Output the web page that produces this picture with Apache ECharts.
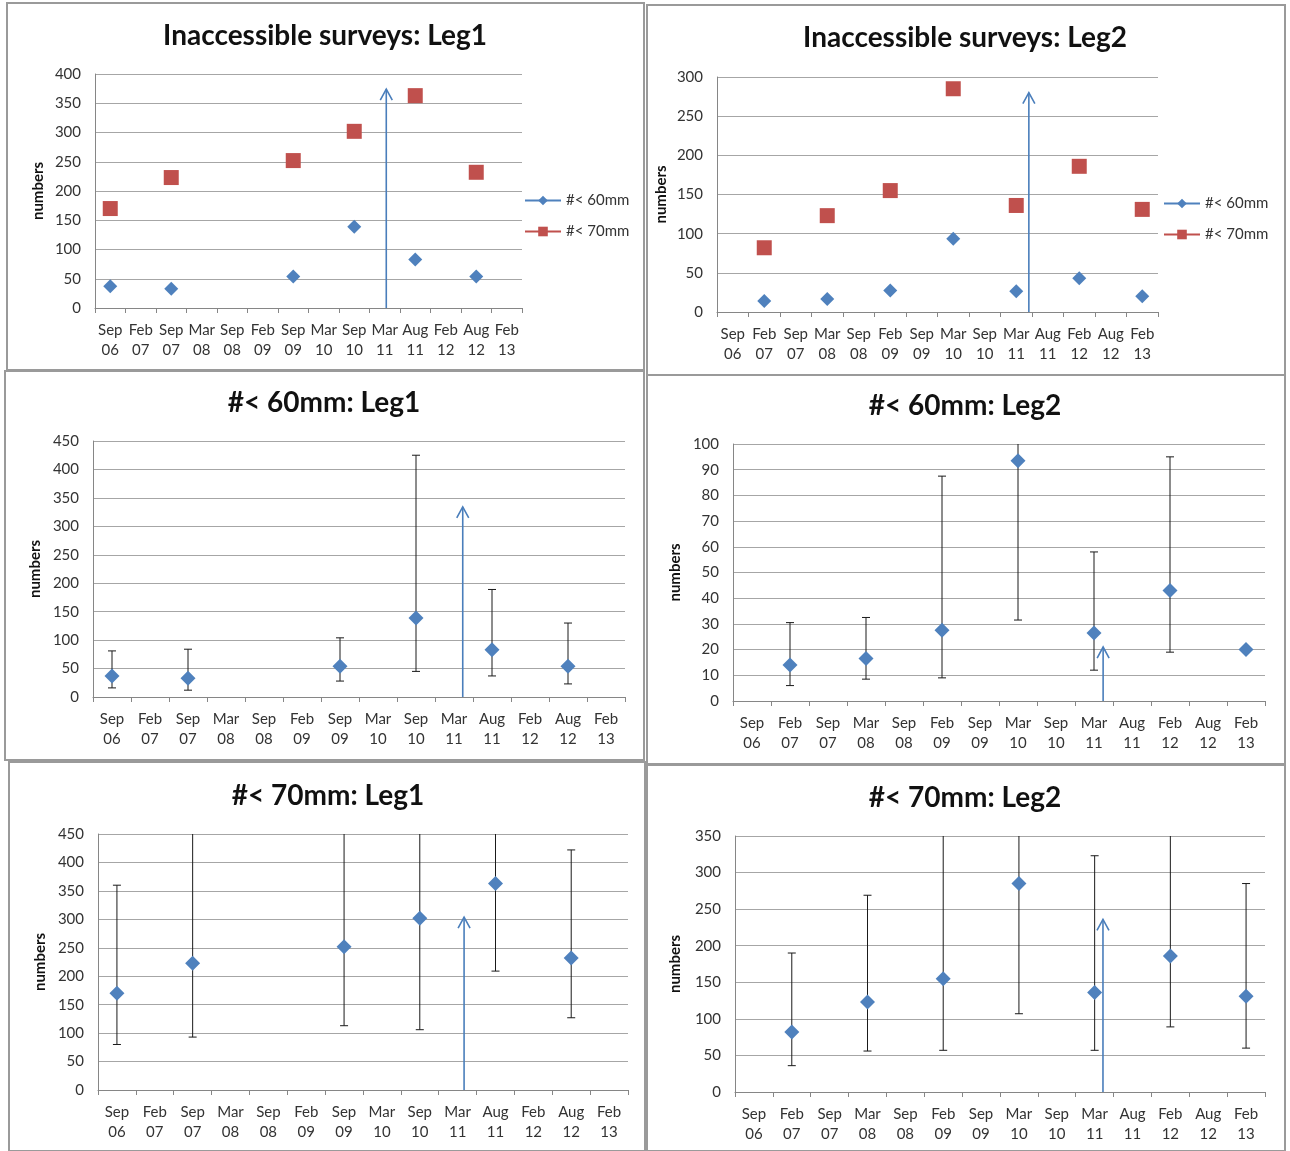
<!DOCTYPE html>
<html>
<head>
<meta charset="utf-8">
<script src="https://cdn.jsdelivr.net/npm/echarts@6/dist/echarts.min.js"></script>
<style>
html,body{margin:0;padding:0;background:#fff;}
#chart{width:1290px;height:1151px;}
</style>
</head>
<body>
<div id="chart"></div>
<script>
// ---- data ----
const categories = ['Sep\n06','Feb\n07','Sep\n07','Mar\n08','Sep\n08','Feb\n09','Sep\n09','Mar\n10','Sep\n10','Mar\n11','Aug\n11','Feb\n12','Aug\n12','Feb\n13'];

const leg1_60 = [37,null,33,null,null,null,54,null,139,null,83,null,54,null];
const leg1_70 = [170,null,223,null,null,null,252,null,302,null,363,null,232,null];
const leg2_60 = [null,14,null,16.5,null,27.5,null,93.5,null,26.5,null,43,null,20];
const leg2_70 = [null,82,null,123,null,155,null,285,null,136,null,186,null,131];

const leg1_60_low  = [16,null,12,null,null,null,28,null,45,null,37,null,23,null];
const leg1_60_high = [81,null,84,null,null,null,104,null,425,null,189,null,130,null];
const leg2_60_low  = [null,6,null,8.5,null,9,null,31.5,null,12,null,19,null,null];
const leg2_60_high = [null,30.5,null,32.5,null,87.5,null,110,null,58,null,95,null,null];
const leg1_70_low  = [80,null,93,null,null,null,113,null,106,null,209,null,127,null];
const leg1_70_high = [360,null,480,null,null,null,470,null,500,null,520,null,422,null];
const leg2_70_low  = [null,36,null,56,null,57,null,107,null,57,null,89,null,60];
const leg2_70_high = [null,190,null,269,null,380,null,460,null,323,null,390,null,285];

// arrow (position in category units, height in axis units) per panel
const arrowX   = [9.05, 9.40, 9.23, 9.24, 9.17, 9.22];
const arrowTop = [374, 280, 334, 21, 304, 236];

const titles = ['Inaccessible surveys: Leg1','Inaccessible surveys: Leg2','#< 60mm: Leg1','#< 60mm: Leg2','#< 70mm: Leg1','#< 70mm: Leg2'];
const yMax  = [400, 300, 450, 100, 450, 350];
const yStep = [50, 50, 50, 10, 50, 50];
const seriesNames = ['#< 60mm', '#< 70mm'];

// ---- layout ----
const grids = [
  {left:95,  top:74,  width:427, height:234},
  {left:717, top:77,  width:441, height:235},
  {left:93,  top:441, width:532, height:256},
  {left:733, top:444, width:532, height:257},
  {left:98,  top:834, width:530, height:256},
  {left:735, top:836, width:530, height:256}
];
const titlePos = [[325,36],[965,38],[324,403],[965,406],[328,796],[965,798]];
const nameGap = [49, 48, 50, 50, 50, 52];
const frames = [
  [7,3,637,367],[647,5,638,370],[5,371,639,389],[647,375,638,390],[9,762,636,389],[647,764,638,387]
];

const BLUE = '#4f81bd', RED = '#c0504d', ARROW = '#4a7ebb';
const FONT = "Lato, 'Liberation Sans', Arial, sans-serif";
const TFONT = "Lato, 'Liberation Sans', Arial, sans-serif";

function toPoints(vals){ const out=[]; vals.forEach((v,i)=>{ if(v!=null) out.push([i,v]); }); return out; }
function toErr(lo,hi){ const out=[]; lo.forEach((v,i)=>{ if(v!=null && hi[i]!=null) out.push([i,v,hi[i]]); }); return out; }

function errRender(params, api){
  const x = api.value(0), lo = api.value(1), hi = api.value(2);
  const p1 = api.coord([x, lo]);
  const p2 = api.coord([x, hi]);
  const cs = params.coordSys;
  let y2 = p2[1], capTop = true;
  if (y2 < cs.y) { y2 = cs.y; capTop = false; }
  const w = 4;
  const st = {stroke:'#1a1a1a', lineWidth:1};
  const ch = [
    {type:'line', shape:{x1:p1[0], y1:p1[1], x2:p1[0], y2:y2}, style:st},
    {type:'line', shape:{x1:p1[0]-w, y1:p1[1], x2:p1[0]+w, y2:p1[1]}, style:st}
  ];
  if (capTop) ch.push({type:'line', shape:{x1:p1[0]-w, y1:y2, x2:p1[0]+w, y2:y2}, style:st});
  return {type:'group', children:ch};
}
function arrowRender(params, api){
  const x = api.value(0), top = api.value(1);
  const p0 = api.coord([x, 0]);
  const p1 = api.coord([x, top]);
  const st = {stroke:ARROW, lineWidth:1.6, fill:null};
  return {type:'group', children:[
    {type:'line', shape:{x1:p0[0], y1:p0[1], x2:p1[0], y2:p1[1]}, style:st},
    {type:'polyline', shape:{points:[[p1[0]-6,p1[1]+11],[p1[0],p1[1]],[p1[0]+6,p1[1]+11]]}, style:st}
  ]};
}

const option = {
  animation:false,
  backgroundColor:'#fff',
  textStyle:{fontFamily:FONT},
  title: titles.map((t,i)=>({
    text:t, left:titlePos[i][0], top:titlePos[i][1], padding:0,
    textAlign:'center', textVerticalAlign:'middle',
    textStyle:{fontFamily:TFONT, fontSize:28, fontWeight:'bold', color:'#111'}
  })),
  legend:[
    {data:seriesNames, orient:'vertical', left:519, top:188, itemWidth:36, itemHeight:12, itemGap:16,
     textStyle:{fontSize:15, color:'#333', fontFamily:FONT}, selectedMode:false},
    {data:seriesNames, orient:'vertical', left:1158, top:191, itemWidth:36, itemHeight:12, itemGap:16,
     textStyle:{fontSize:15, color:'#333', fontFamily:FONT}, selectedMode:false}
  ],
  graphic: frames.map(f=>({type:'rect', shape:{x:f[0], y:f[1], width:f[2], height:f[3]},
     style:{fill:null, stroke:'#9a9a9a', lineWidth:2}, z:-1, silent:true})),
  grid: grids.map(g=>Object.assign({containLabel:false}, g)),
  xAxis: [],
  yAxis: [],
  series: []
};

grids.forEach((g,i)=>{
  option.xAxis.push({
    type:'category', gridIndex:i, data:categories, boundaryGap:true,
    axisLine:{onZero:false, lineStyle:{color:'#868686', width:1}},
    axisTick:{show:true, length:5, lineStyle:{color:'#868686'}},
    axisLabel:{fontSize:15, color:'#333', lineHeight:20, margin:12, interval:0, fontFamily:FONT},
    splitLine:{show:false}
  });
  option.xAxis.push({type:'value', gridIndex:i, min:-0.5, max:13.5, show:false});
  option.yAxis.push({
    type:'value', gridIndex:i, min:0, max:yMax[i], interval:yStep[i],
    name:'numbers', nameLocation:'middle', nameRotate:90, nameGap:nameGap[i],
    nameTextStyle:{fontSize:15, fontWeight:'bold', color:'#111', fontFamily:FONT},
    axisLine:{show:true, onZero:false, lineStyle:{color:'#868686', width:1}},
    axisTick:{show:false},
    axisLabel:{fontSize:15, color:'#333', margin:14, fontFamily:FONT},
    splitLine:{show:true, lineStyle:{color:'#a6a6a6', width:1}}
  });
});

// panels 1 & 2: overview scatter with legend
[[leg1_60, leg1_70],[leg2_60, leg2_70]].forEach((pair,i)=>{
  option.series.push({
    name:seriesNames[0], type:'line', xAxisIndex:2*i, yAxisIndex:i, data:pair[0],
    symbol:'diamond', symbolSize:14, showSymbol:true, showAllSymbol:true, connectNulls:false,
    itemStyle:{color:BLUE}, lineStyle:{color:BLUE, width:2.5}, z:3
  });
  option.series.push({
    name:seriesNames[1], type:'line', xAxisIndex:2*i, yAxisIndex:i, data:pair[1],
    symbol:'rect', symbolSize:15, showSymbol:true, showAllSymbol:true, connectNulls:false,
    itemStyle:{color:RED}, lineStyle:{color:RED, width:2.5}, z:3
  });
});

// panels 3-6: values with error bars
const detail = [
  [leg1_60, leg1_60_low, leg1_60_high],
  [leg2_60, leg2_60_low, leg2_60_high],
  [leg1_70, leg1_70_low, leg1_70_high],
  [leg2_70, leg2_70_low, leg2_70_high]
];
detail.forEach((d,k)=>{
  const i = k+2;
  option.series.push({
    type:'custom', name:'err'+i, xAxisIndex:2*i, yAxisIndex:i,
    data:toErr(d[1], d[2]), renderItem:errRender, encode:{x:0, y:[1,2]}, z:2, silent:true
  });
  option.series.push({
    type:'scatter', name:'val'+i, xAxisIndex:2*i, yAxisIndex:i,
    data:toPoints(d[0]), symbol:'diamond', symbolSize:15, itemStyle:{color:BLUE, opacity:1}, z:4
  });
});

// arrows
arrowX.forEach((ax,i)=>{
  option.series.push({
    type:'custom', name:'arrow'+i, xAxisIndex:2*i+1, yAxisIndex:i,
    data:[[ax, arrowTop[i]]], renderItem:arrowRender, encode:{x:0, y:1}, z:5, silent:true
  });
});

const chart = echarts.init(document.getElementById('chart'), null, {renderer:'canvas'});
chart.setOption(option);
</script>
</body>
</html>
